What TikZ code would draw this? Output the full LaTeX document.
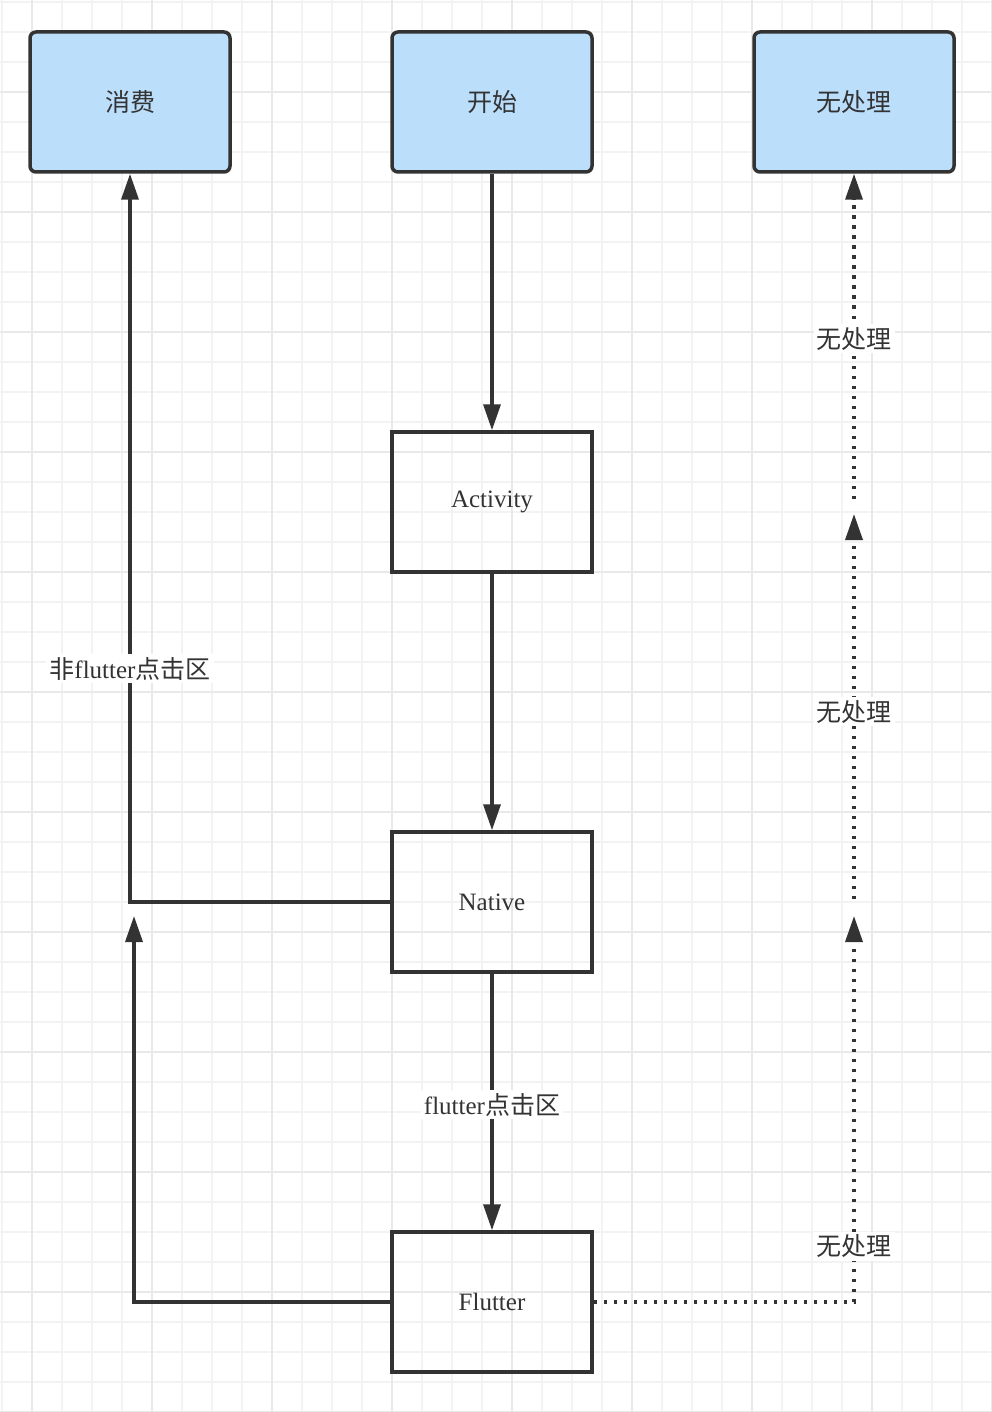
\documentclass[tikz,border=0pt]{standalone}
\usepackage{fontspec}
\setmainfont{Liberation Serif}
\newfontfamily\cjk{Noto Sans CJK SC}
\usetikzlibrary{arrows.meta,positioning}
\definecolor{inkgray}{RGB}{51,51,51}
\definecolor{boxblue}{RGB}{187,222,251}
\definecolor{gridminor}{RGB}{243,243,243}
\definecolor{gridmajor}{RGB}{233,233,233}
\tikzset{
  flowbox/.style={draw=inkgray, line width=3.5pt, minimum width=200pt, minimum height=140pt,
    inner sep=0pt, text=inkgray, font=\fontsize{25}{30}\selectfont},
  endbox/.style={flowbox, fill=boxblue, rounded corners=6pt},
  flowln/.style={-{Triangle[length=26pt,width=17pt]}, line width=3.5pt, draw=inkgray},
  dotln/.style={flowln, dash pattern=on 3.5pt off 6.5pt},
  edgelbl/.style={fill=white, text=inkgray, inner sep=3pt, font=\fontsize{25}{30}\selectfont},
}

\begin{document}
\begin{tikzpicture}[x=1pt, y=-1pt]
        \useasboundingbox (0,0) rectangle (992,1412);
        % background grid
        \foreach \gx in {2,32,...,992}
          \draw[gridminor, line width=1.5pt] (\gx,0) -- (\gx,1412);
        \foreach \gy in {2,32,...,1412}
          \draw[gridminor, line width=1.5pt] (0,\gy) -- (992,\gy);
        \foreach \gx in {32,152,...,992}
          \draw[gridmajor, line width=1.5pt] (\gx,0) -- (\gx,1412);
        \foreach \gy in {92,212,...,1412}
          \draw[gridmajor, line width=1.5pt] (0,\gy) -- (992,\gy);

        % boxes
        \node[endbox] (consume) at (130,102) {\cjk 消费};
        \node[endbox] (start) at (492,102) {\cjk 开始};
        \node[endbox] (nohandle) at (854,102) {\cjk 无处理};
        \node[flowbox] (activity) at (492,502) {Activity};
        \node[flowbox] (native) at (492,902) {Native};
        \node[flowbox] (flutter) at (492,1302) {Flutter};

        \coordinate (flutterup) at (134,916);
        \coordinate (dotA) at (854,916);
        \coordinate (dotB) at (854,899);
        \coordinate (dotC) at (854,514);
        \coordinate (dotD) at (854,499);

        % main flow
        \draw[flowln] (start) -- (activity);
        \draw[flowln] (activity) -- (native);
        \draw[flowln] (native) -- node[edgelbl, pos=0.51] (lblin) {flutter{\cjk 点击区}} (flutter);
        \draw[flowln] (native.west) -| node[edgelbl, pos=0.66] (lblout) {{\cjk 非}flutter{\cjk 点击区}} (consume.south);
        \draw[flowln] (flutter.west) -| (flutterup);

        % unhandled chain
        \draw[dotln] (flutter.east) -| node[edgelbl, pos=0.5725] (lblno1) {\cjk 无处理} (dotA);
        \draw[dotln] (dotB) -- node[edgelbl, pos=0.486] (lblno2) {\cjk 无处理} (dotC);
        \draw[dotln] (dotD) -- node[edgelbl, pos=0.492] (lblno3) {\cjk 无处理} (nohandle.south);
      \end{tikzpicture}
\end{document}
